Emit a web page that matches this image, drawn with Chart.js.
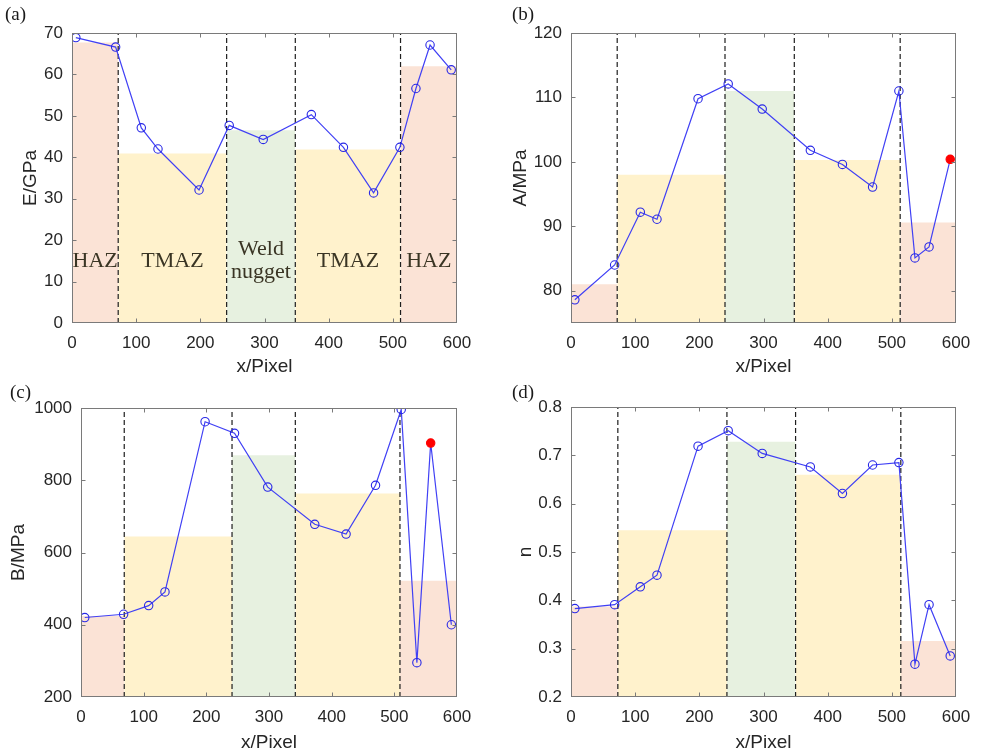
<!DOCTYPE html>
<html>
<head>
<meta charset="utf-8">
<script src="https://cdn.jsdelivr.net/npm/chart.js@4.4.1/dist/chart.umd.min.js"></script>
<style>
  html, body { margin: 0; padding: 0; background: #ffffff; }
  #wrap { position: relative; width: 986px; height: 755px; overflow: hidden; }
  canvas { position: absolute; }
  .plabel { position: absolute; font-family: "Liberation Serif", "Times New Roman", serif; font-size: 19px; color: #1a1a1a; }
</style>
</head>
<body>
<div id="wrap">
  <canvas id="ca" width="490" height="378" style="left:0px;top:0px"></canvas>
  <canvas id="cb" width="496" height="378" style="left:490px;top:0px"></canvas>
  <canvas id="cc" width="490" height="377" style="left:0px;top:378px"></canvas>
  <canvas id="cd" width="496" height="377" style="left:490px;top:378px"></canvas>
  <div class="plabel" style="left:5px;top:3px">(a)</div>
  <div class="plabel" style="left:512px;top:3px">(b)</div>
  <div class="plabel" style="left:10px;top:381px">(c)</div>
  <div class="plabel" style="left:512px;top:381px">(d)</div>
</div>
<script>
// ---------------- DATA ----------------
const xPixel = [6, 68, 108, 134, 198, 245, 298, 373, 423, 470, 511, 536, 558, 591];

const seriesE = [68.9, 66.6, 47.1, 42.0, 32.1, 47.7, 44.3, 50.3, 42.4, 31.4, 42.4, 56.6, 67.1, 61.1];
const seriesA = [78.6, 84.0, 92.2, 91.1, 109.8, 112.1, 108.2, 101.8, 99.6, 96.1, 111.0, 85.1, 86.8, 100.4];
const seriesB = [420, 429, 453, 491, 962, 930, 781, 678, 651, 786, 996, 295, 903, 400];
const seriesN = [0.383, 0.391, 0.428, 0.452, 0.719, 0.751, 0.704, 0.676, 0.621, 0.680, 0.685, 0.268, 0.391, 0.285];

const zoneNames = ['HAZ', 'TMAZ', 'Weld nugget', 'TMAZ', 'HAZ'];
const zoneBoundsE = [0, 72, 241, 348, 512, 600];
const zoneBoundsA = [0, 72, 240, 348, 513, 600];
const zoneBoundsB = [0, 69, 241, 342, 509, 600];
const zoneBoundsN = [0, 73, 243, 350, 514, 600];

const zoneLevelE = [67.7, 40.9, 46.5, 41.9, 62.0];
const zoneLevelA = [81.0, 98.0, 111.0, 100.3, 90.6];
const zoneLevelB = [424, 644, 869, 763, 522];
const zoneLevelN = [0.387, 0.545, 0.728, 0.660, 0.316];

const xTicks = [0, 100, 200, 300, 400, 500, 600];
const yTicksE = [0, 10, 20, 30, 40, 50, 60, 70];
const yTicksA = [80, 90, 100, 110, 120];
const yTicksB = [200, 400, 600, 800, 1000];
const yTicksN = [0.2, 0.3, 0.4, 0.5, 0.6, 0.7, 0.8];

// ---------------- STYLE ----------------
const zoneColors = ['#fbe3d6', '#fff2cc', '#e7f1e0', '#fff2cc', '#fbe3d6'];
const lineColor = '#4040f5';
const markerColor = '#2828e6';
const textColor = '#262626';

// box + inward ticks plugin
const boxPlugin = {
  id: 'boxTicks',
  afterDraw(chart) {
    const {ctx, chartArea: a, scales: {x, y}} = chart;
    ctx.save();
    ctx.strokeStyle = '#7a7a7a';
    ctx.lineWidth = 1;
    const L = Math.round(a.left) + 0.5, R = Math.round(a.right) - 0.5;
    const T = Math.round(a.top) + 0.5, B = Math.round(a.bottom) - 0.5;
    ctx.strokeRect(L, T, R - L, B - T);
    ctx.beginPath();
    x.ticks.forEach(t => {
      const px = Math.round(x.getPixelForValue(t.value)) + 0.5;
      if (px <= L + 1 || px >= R - 1) return;
      ctx.moveTo(px, B); ctx.lineTo(px, B - 4);
      ctx.moveTo(px, T); ctx.lineTo(px, T + 4);
    });
    y.ticks.forEach(t => {
      const py = Math.round(y.getPixelForValue(t.value)) + 0.5;
      if (py <= T + 1 || py >= B - 1) return;
      ctx.moveTo(L, py); ctx.lineTo(L + 4, py);
      ctx.moveTo(R, py); ctx.lineTo(R - 4, py);
    });
    ctx.stroke();
    ctx.restore();
  }
};

// zone names plugin (panel a)
const zoneTextPlugin = {
  id: 'zoneText',
  afterDatasetsDraw(chart, args, opts) {
    if (!opts || !opts.names) return;
    const {ctx, scales: {x, y}} = chart;
    ctx.save();
    ctx.font = '22px "Liberation Serif", "Times New Roman", serif';
    ctx.fillStyle = '#3a3524';
    ctx.textAlign = 'center';
    ctx.textBaseline = 'middle';
    opts.names.forEach((name, i) => {
      const cx = x.getPixelForValue((opts.bounds[i] + opts.bounds[i + 1]) / 2);
      const words = name.split(' ');
      if (words.length === 1) {
        ctx.fillText(name, cx, y.getPixelForValue(opts.yOne));
      } else {
        ctx.fillText(words[0], cx, y.getPixelForValue(opts.yTwo[0]));
        ctx.fillText(words[1], cx, y.getPixelForValue(opts.yTwo[1]));
      }
    });
    ctx.restore();
  }
};

function makePanel(id, cfg) {
  const canvas = document.getElementById(id);
  const W = canvas.width, H = canvas.height;
  const lineData = xPixel.map((xv, i) => ({x: xv, y: cfg.values[i]}));
  const datasets = [];
  datasets.push({
    type: 'line',
    data: lineData,
    borderColor: lineColor,
    borderWidth: 1.2,
    pointRadius: 4.2,
    pointBorderWidth: 1.1,
    pointBorderColor: ctx => (ctx.dataIndex === cfg.redIndex ? '#ff0000' : markerColor),
    pointBackgroundColor: ctx => (ctx.dataIndex === cfg.redIndex ? '#ff0000' : 'rgba(0,0,0,0)'),
    fill: false,
    tension: 0,
    order: 0
  });
  for (let i = 1; i < cfg.bounds.length - 1; i++) {
    datasets.push({
      type: 'line',
      data: [{x: cfg.bounds[i], y: cfg.yMin}, {x: cfg.bounds[i], y: cfg.yMax}],
      borderColor: '#1e1e1e',
      borderWidth: 1.2,
      borderDash: [5, 3],
      pointRadius: 0,
      fill: false,
      order: 1
    });
  }
  for (let i = 0; i < cfg.levels.length; i++) {
    datasets.push({
      type: 'line',
      data: [{x: cfg.bounds[i], y: cfg.levels[i]}, {x: cfg.bounds[i + 1], y: cfg.levels[i]}],
      borderWidth: 0,
      borderColor: 'rgba(0,0,0,0)',
      backgroundColor: zoneColors[i],
      pointRadius: 0,
      fill: 'start',
      order: 2
    });
  }
  const tickFont = {family: 'Arial, "Liberation Sans", sans-serif', size: 17};
  const titleFont = {family: 'Arial, "Liberation Sans", sans-serif', size: 19};
  new Chart(canvas, {
    type: 'line',
    data: {datasets},
    plugins: [boxPlugin, zoneTextPlugin],
    options: {
      responsive: false,
      animation: false,
      devicePixelRatio: 1,
      layout: {padding: {left: 0, top: cfg.area.top, right: W - cfg.area.right, bottom: 0}},
      plugins: {
        legend: {display: false},
        tooltip: {enabled: false},
        zoneText: cfg.zoneText || {}
      },
      scales: {
        x: {
          type: 'linear',
          min: 0, max: 600,
          grid: {display: false, drawTicks: false},
          border: {display: false},
          afterBuildTicks: s => { s.ticks = xTicks.map(v => ({value: v})); },
          afterFit: s => { s.height = H - cfg.area.bottom; },
          ticks: {font: tickFont, color: textColor, padding: 10, maxRotation: 0, autoSkip: false},
          title: {display: true, text: 'x/Pixel', font: titleFont, color: textColor, padding: {top: 0, bottom: cfg.xTitlePad}, align: 'center'}
        },
        y: {
          type: 'linear',
          min: cfg.yMin, max: cfg.yMax,
          grid: {display: false, drawTicks: false},
          border: {display: false},
          afterBuildTicks: s => { s.ticks = cfg.yTicks.map(v => ({value: v})); },
          afterFit: s => { s.width = cfg.area.left; },
          ticks: {font: tickFont, color: textColor, padding: 9, autoSkip: false,
                  callback: v => cfg.fmt(v)},
          title: {display: true, text: cfg.yTitle, font: titleFont, color: textColor, padding: {top: cfg.yTitlePad, bottom: 0}}
        }
      }
    }
  });
}

makePanel('ca', {
  values: seriesE, bounds: zoneBoundsE, levels: zoneLevelE,
  yMin: 0, yMax: 70, yTicks: yTicksE, yTitle: 'E/GPa', fmt: v => String(v),
  area: {left: 72, right: 457, top: 33, bottom: 323},
  redIndex: -1, yTitlePad: 19, xTitlePad: 0,
  zoneText: {names: zoneNames, bounds: zoneBoundsE, yOne: 15.0, yTwo: [17.7, 12.3]}
});
makePanel('cb', {
  values: seriesA, bounds: zoneBoundsA, levels: zoneLevelA,
  yMin: 75, yMax: 120, yTicks: yTicksA, yTitle: 'A/MPa', fmt: v => String(v),
  area: {left: 81, right: 466, top: 33, bottom: 323},
  redIndex: 13, yTitlePad: 19, xTitlePad: 0
});
makePanel('cc', {
  values: seriesB, bounds: zoneBoundsB, levels: zoneLevelB,
  yMin: 200, yMax: 1000, yTicks: yTicksB, yTitle: 'B/MPa', fmt: v => String(v),
  area: {left: 81, right: 457, top: 30, bottom: 319},
  redIndex: 12, yTitlePad: 7, xTitlePad: 1
});
makePanel('cd', {
  values: seriesN, bounds: zoneBoundsN, levels: zoneLevelN,
  yMin: 0.2, yMax: 0.8, yTicks: yTicksN, yTitle: 'n', fmt: v => v.toFixed(1),
  area: {left: 81, right: 466, top: 29, bottom: 319},
  redIndex: -1, yTitlePad: 24, xTitlePad: 1
});
</script>
</body>
</html>
